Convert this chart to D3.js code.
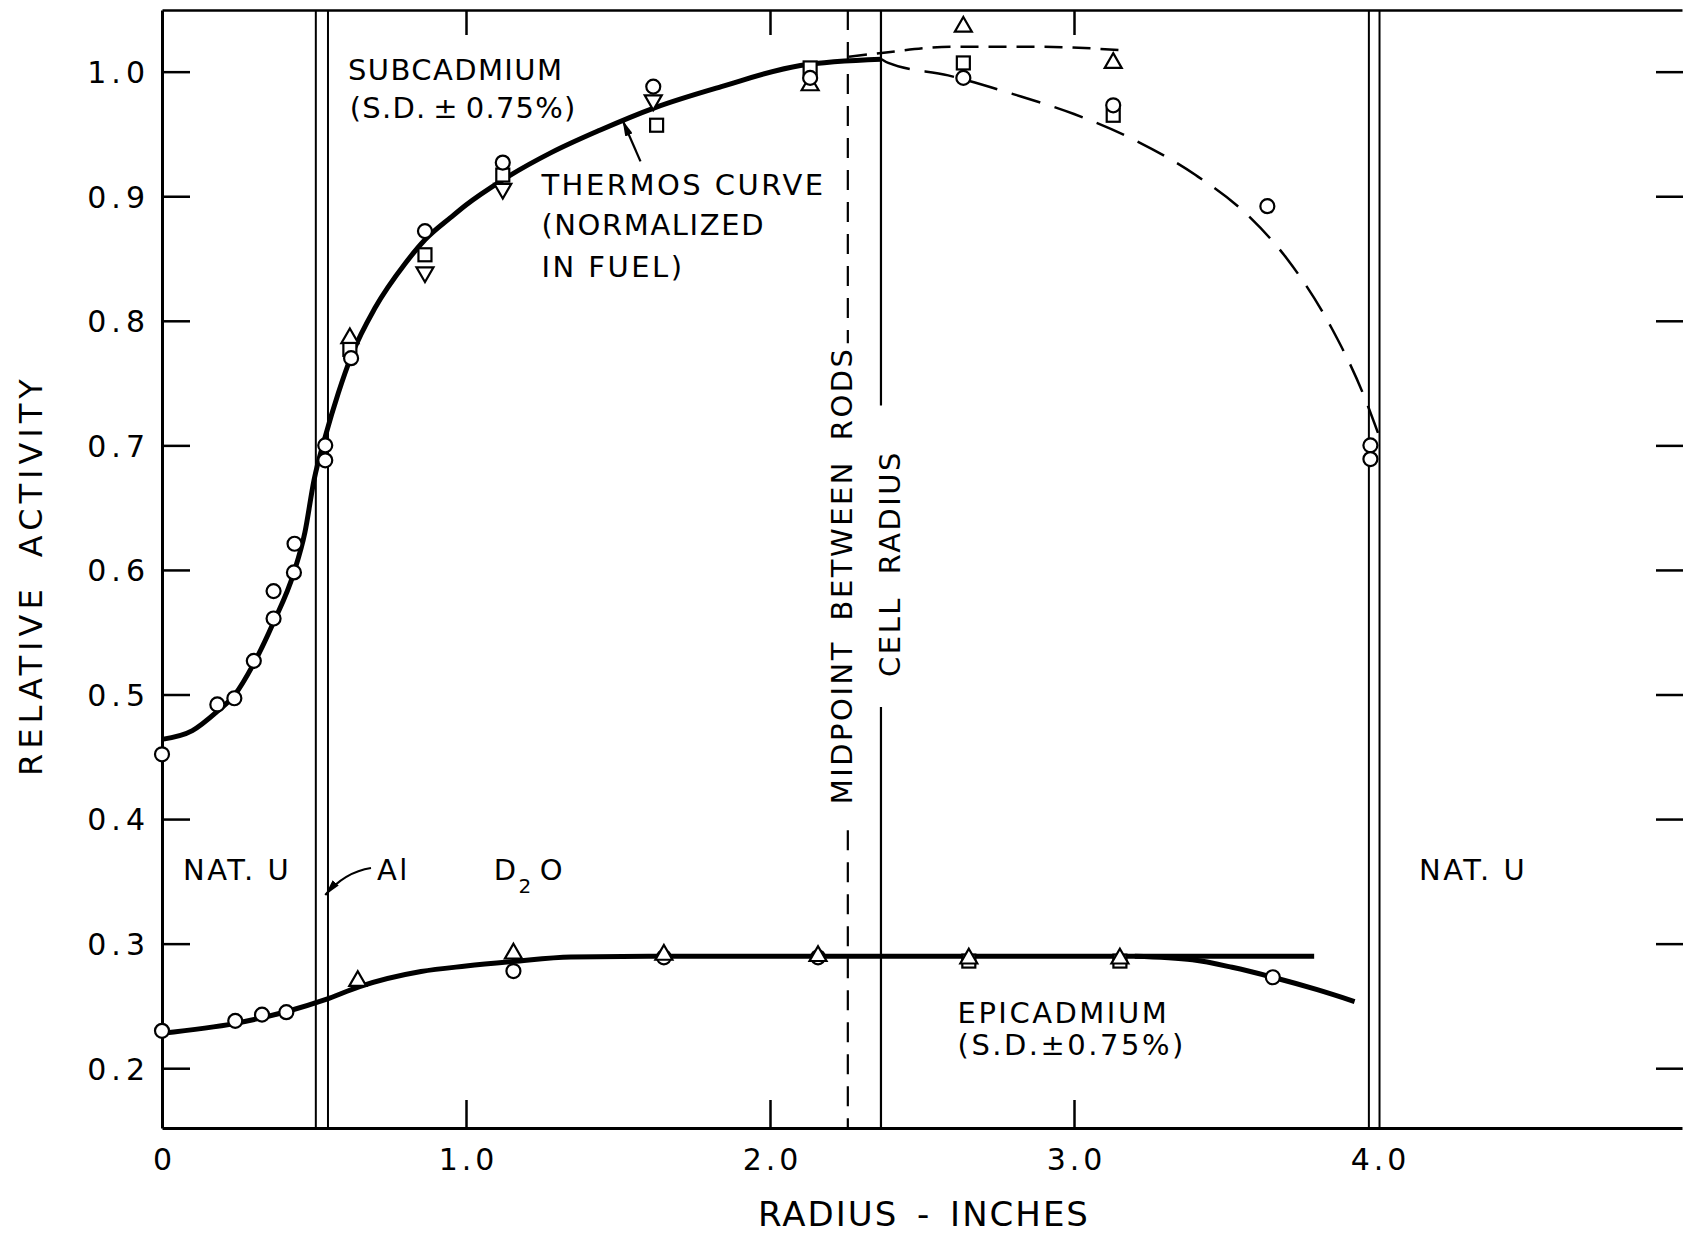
<!DOCTYPE html>
<html>
<head>
<meta charset="utf-8">
<script src="https://cdn.jsdelivr.net/npm/d3@7"></script>
<style>
body{margin:0;background:#fff}
svg{display:block;font-family:"DejaVu Sans",sans-serif}
.lbl{font-size:29px;letter-spacing:2.5px;fill:#000}
</style>
</head>
<body>
<div id="chart"></div>
<script>

// subcadmium measurements (radius in inches, relative activity)
var subCircles = [[0.000,0.452],[0.182,0.492],[0.238,0.497],[0.302,0.527],[0.367,0.583],[0.367,0.561],[0.436,0.621],[0.434,0.598],[0.537,0.700],[0.537,0.688],[0.622,0.770],[0.865,0.872],[1.121,0.927],[1.616,0.988],[2.132,0.995],[2.636,0.995],[3.129,0.973],[3.636,0.892],[3.975,0.700],[3.975,0.689]];
var subSquares = [[0.618,0.777],[0.865,0.853],[1.121,0.917],[1.627,0.957],[2.132,1.003],[2.636,1.007],[3.129,0.965]];
var subTriangles = [[0.618,0.786],[2.132,0.989],[2.636,1.036],[3.129,1.007]];
var subTrianglesDown = [[0.865,0.839],[1.121,0.906],[1.616,0.977]];

// epicadmium measurements
var epiCircles = [[0.000,0.230],[0.241,0.238],[0.329,0.243],[0.409,0.245],[1.156,0.278],[1.651,0.289],[2.158,0.289],[3.654,0.273]];
var epiTriangles = [[0.644,0.270],[1.156,0.292],[1.651,0.291],[2.158,0.290],[2.654,0.288],[3.151,0.288]];
var epiSquares = [[2.654,0.286],[3.151,0.286]];

// curves
var thermosCurve = [[0,0.464],[0.1,0.471],[0.18,0.486],[0.24,0.500],[0.30,0.524],[0.367,0.558],[0.434,0.598],[0.47,0.630],[0.50,0.672],[0.537,0.707],[0.58,0.742],[0.625,0.773],[0.70,0.810],[0.80,0.846],[0.865,0.865],[0.95,0.883],[1.0,0.893],[1.12,0.913],[1.28,0.935],[1.44,0.953],[1.62,0.971],[1.84,0.988],[2.1,1.005],[2.365,1.010]];
var upperDash = [[2.26,1.012],[2.367,1.015],[2.60,1.020],[2.877,1.020],[3.173,1.017]];
var lowerDash = [[2.367,1.010],[2.389,1.007],[2.586,0.997],[2.8,0.982],[3.0,0.966],[3.2,0.945],[3.4,0.917],[3.575,0.884],[3.7,0.850],[3.85,0.793],[3.95,0.742],[4.0,0.710]];
var epiCurve = [[0,0.228],[0.241,0.236],[0.411,0.2455],[0.537,0.255],[0.65,0.2655],[0.852,0.2776],[1.0,0.282],[1.154,0.2856],[1.345,0.2893],[1.6,0.2898],[3.79,0.2898]];
var epiDrop = [[3.2,0.2898],[3.39,0.287],[3.52,0.281],[3.654,0.273],[3.80,0.263],[3.923,0.2535]];

// boundaries
var rodLines = [0.506,0.546,3.970,4.005];
var midpoint = 2.256;
var cellRadius = 2.365;

var yTicks = [0.2,0.3,0.4,0.5,0.6,0.7,0.8,0.9,1.0];
var xTicks = [0,1,2,3,4];

var W = 1683, H = 1236;
var svg = d3.select("#chart").append("svg").attr("width",W).attr("height",H);
svg.append("rect").attr("width",W).attr("height",H).attr("fill","#fff");

var x = d3.scaleLinear().domain([0,5]).range([162,1682]);
var y = d3.scaleLinear().domain([0.152,1.0495]).range([1128,10]);

// vertical boundary lines
svg.selectAll(".rod").data(rodLines).enter().append("line")
	.attr("x1",function(d){return x(d)}).attr("x2",function(d){return x(d)})
	.attr("y1",y.range()[1]).attr("y2",y.range()[0])
	.attr("stroke","#000").attr("stroke-width",2);

// midpoint between rods (dashed, broken by its label)
[[1.0495,0.782],[0.391,0.152]].forEach(function(s){
	svg.append("line").attr("x1",x(midpoint)).attr("x2",x(midpoint))
		.attr("y1",y(s[0])).attr("y2",y(s[1]))
		.attr("stroke","#000").attr("stroke-width",2.2).attr("stroke-dasharray","20,12");
});
[[1.0495,0.732],[0.490,0.152]].forEach(function(s){
	svg.append("line").attr("x1",x(cellRadius)).attr("x2",x(cellRadius))
		.attr("y1",y(s[0])).attr("y2",y(s[1]))
		.attr("stroke","#000").attr("stroke-width",2.2);
});

// axes
function styleAxis(g){
	g.select(".domain").attr("stroke","#000").attr("stroke-width",3);
	g.selectAll(".tick line").attr("stroke","#000").attr("stroke-width",2.5);
	g.selectAll(".tick text").attr("fill","#000").style("font-size","30px").style("letter-spacing","5px")
		.style("font-family","'DejaVu Sans',sans-serif");
}

var gl = svg.append("g").attr("transform","translate("+x(0)+",0)")
	.call(d3.axisLeft(y).tickValues(yTicks).tickSizeInner(-28).tickSizeOuter(0).tickPadding(12).tickFormat(d3.format(".1f")));
styleAxis(gl);
gl.selectAll(".tick text").attr("dy","0.36em");

var gr = svg.append("g").attr("transform","translate("+(x(5)+2)+",0)")
	.call(d3.axisRight(y).tickValues(yTicks).tickSizeInner(-28).tickSizeOuter(0).tickFormat(""));
styleAxis(gr);

var gb = svg.append("g").attr("transform","translate(0,"+y(0.152)+")")
	.call(d3.axisBottom(x).tickValues(xTicks).tickSizeInner(-28).tickSizeOuter(0).tickPadding(21)
		.tickFormat(function(d){return d===0?"0":d.toFixed(1)}));
styleAxis(gb);
gb.selectAll(".tick text").style("letter-spacing","4px").attr("dx","2px");
gb.selectAll(".tick").filter(function(d){return d===0||d===4}).select("line").remove();

var gt = svg.append("g").attr("transform","translate(0,"+y(1.0495)+")")
	.call(d3.axisTop(x).tickValues([1,2,3]).tickSizeInner(-25).tickSizeOuter(0).tickFormat(""));
styleAxis(gt);
gt.select(".domain").attr("stroke-width",2.5);

// curves
var line = d3.line().x(function(d){return x(d[0])}).y(function(d){return y(d[1])}).curve(d3.curveMonotoneX);

svg.append("path").datum(thermosCurve).attr("d",line).attr("fill","none").attr("stroke","#000").attr("stroke-width",5);
svg.append("path").datum(upperDash).attr("d",line).attr("fill","none").attr("stroke","#000").attr("stroke-width",2.5).attr("stroke-dasharray","18,10");
svg.append("path").datum(lowerDash).attr("d",line).attr("fill","none").attr("stroke","#000").attr("stroke-width",2.5).attr("stroke-dasharray","30,15");
svg.append("path").datum(epiCurve).attr("d",line).attr("fill","none").attr("stroke","#000").attr("stroke-width",5);
svg.append("path").datum(epiDrop).attr("d",line).attr("fill","none").attr("stroke","#000").attr("stroke-width",5);

// markers
var tri = d3.symbol().type(d3.symbolTriangle).size(125);
function triangles(data,down){
	svg.append("g").selectAll("path").data(data).enter().append("path")
		.attr("d",tri)
		.attr("transform",function(d){return "translate("+x(d[0])+","+y(d[1])+")"+(down?" rotate(180)":"")})
		.attr("fill","#fff").attr("stroke","#000").attr("stroke-width",2.2);
}
function squares(data){
	svg.append("g").selectAll("rect").data(data).enter().append("rect")
		.attr("x",function(d){return x(d[0])-6.5}).attr("y",function(d){return y(d[1])-6.5})
		.attr("width",13).attr("height",13)
		.attr("fill","#fff").attr("stroke","#000").attr("stroke-width",2.2);
}
function circles(data){
	svg.append("g").selectAll("circle").data(data).enter().append("circle")
		.attr("cx",function(d){return x(d[0])}).attr("cy",function(d){return y(d[1])}).attr("r",7)
		.attr("fill","#fff").attr("stroke","#000").attr("stroke-width",2.2);
}
triangles(subTriangles,false);
triangles(subTrianglesDown,true);
squares(subSquares);
circles(subCircles);
squares(epiSquares);
circles(epiCircles);
triangles(epiTriangles,false);

// labels
function label(px,py,str,ls){
	var t = svg.append("text").attr("class","lbl").attr("x",px).attr("y",py).text(str);
	if (ls!=null) t.style("letter-spacing",ls+"px");
	return t;
}
label(x(0.612),y(0.993),"SUBCADMIUM",1.4);
label(x(0.618),y(0.963),"(S.D.\u2009\u00b1\u20090.75%)",1.2);
label(x(1.248),y(0.901),"THERMOS  CURVE");
label(x(1.248),y(0.869),"(NORMALIZED",1.6);
label(x(1.248),y(0.835),"IN  FUEL)");
label(x(0.069),y(0.351),"NAT. U");
label(x(0.707),y(0.351),"Al");
var d2o = label(x(1.091),y(0.351),"D");
d2o.append("tspan").attr("dy",13).style("font-size","20px").text("2");
d2o.append("tspan").attr("dy",-13).attr("dx",6).text("O");
label(x(4.135),y(0.351),"NAT.  U");
label(x(2.617),y(0.236),"EPICADMIUM");
label(x(2.617),y(0.211),"(S.D.\u00b10.75%)");

svg.append("text").attr("class","lbl").attr("text-anchor","middle")
	.attr("transform","translate("+x(2.270)+","+y(0.5956)+") rotate(-90)")
	.style("word-spacing","8px").text("MIDPOINT BETWEEN RODS");
svg.append("text").attr("class","lbl").attr("text-anchor","middle")
	.attr("transform","translate("+x(2.428)+","+y(0.6052)+") rotate(-90)")
	.style("word-spacing","10px").text("CELL RADIUS");

// arrows
svg.append("defs").append("marker").attr("id","ah").attr("viewBox","0 0 16 8")
	.attr("refX",16).attr("refY",4).attr("markerWidth",16).attr("markerHeight",8)
	.attr("markerUnits","userSpaceOnUse").attr("orient","auto")
	.append("path").attr("d","M0,0 L16,4 L0,8 Z").attr("fill","#000");
svg.append("line").attr("x1",x(1.574)).attr("y1",y(0.928)).attr("x2",x(1.515)).attr("y2",y(0.961))
	.attr("stroke","#000").attr("stroke-width",2.2).attr("marker-end","url(#ah)");
svg.append("path")
	.attr("d","M"+x(0.6875)+","+y(0.3607)+" Q"+x(0.602)+","+y(0.3575)+" "+x(0.537)+","+y(0.339))
	.attr("fill","none").attr("stroke","#000").attr("stroke-width",2.2).attr("marker-end","url(#ah)");

// axis titles
svg.append("text").attr("text-anchor","middle").attr("x",924).attr("y",1226)
	.style("font-size","34px").style("letter-spacing","2px").style("word-spacing","6px").text("RADIUS - INCHES");
svg.append("text").attr("text-anchor","middle")
	.attr("transform","translate(42,575) rotate(-90)")
	.style("font-size","32px").style("letter-spacing","5px").style("word-spacing","12px").text("RELATIVE ACTIVITY");

</script>
</body>
</html>
